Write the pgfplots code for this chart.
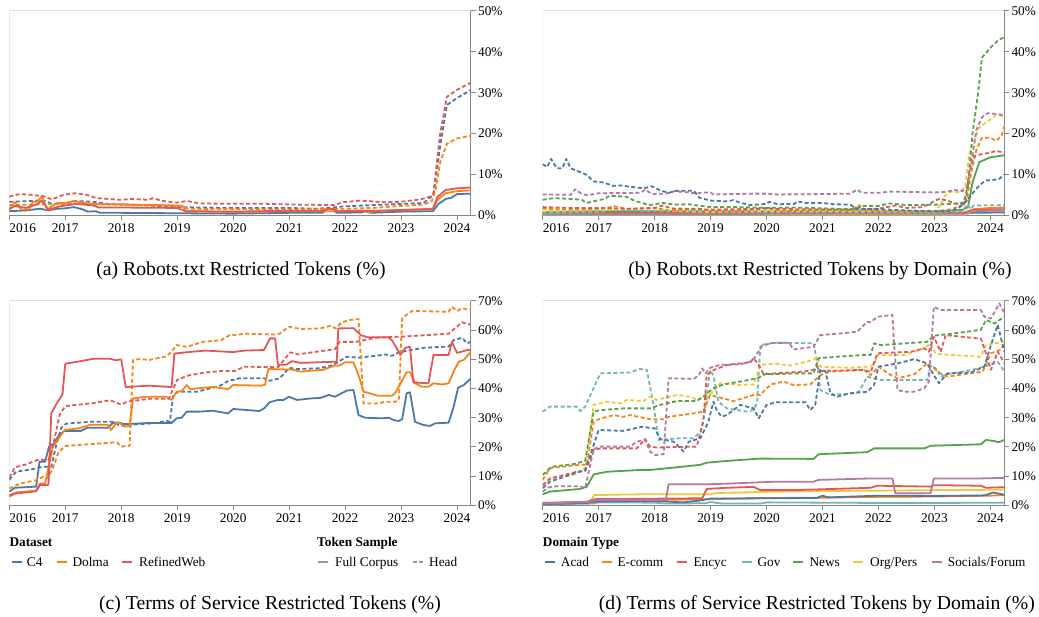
\documentclass[border=0pt]{standalone}
\usepackage{fontspec}
\setmainfont{Liberation Serif}
\usepackage{pgfplots}
\pgfplotsset{compat=1.18}
\definecolor{cA}{HTML}{4C78A8}
\definecolor{cO}{HTML}{F58518}
\definecolor{cR}{HTML}{E45756}
\definecolor{cT}{HTML}{72B7B2}
\definecolor{cG}{HTML}{54A24B}
\definecolor{cY}{HTML}{EECA3B}
\definecolor{cP}{HTML}{B279A2}
\definecolor{axgray}{HTML}{888888}
\definecolor{frgray}{HTML}{DDDDDD}
\definecolor{lggray}{HTML}{999999}
\newcommand{\tickfont}{\fontsize{13.3}{15}\selectfont}
\newcommand{\capfont}{\fontsize{19.7}{24}\selectfont}
\tikzset{hd/.style={dash pattern=on 4pt off 2.5pt}}
\pgfplotsset{
 panel/.style={
  scale only axis, width=461.7pt, height=204.3pt,
  xmin=2016, xmax=2024.25, ymin=0,
  axis x line*=bottom, axis y line*=right,
  axis line style={-, draw=axgray, line width=1pt},
  tick align=outside, major tick length=5pt,
  tick style={draw=axgray, line width=1pt},
  xtick={2017,2018,2019,2020,2021,2022,2023,2024},
  xticklabels={2017,2018,2019,2020,2021,2022,2023,2024},
  extra x ticks={2016}, extra x tick labels={2016},
  extra x tick style={xticklabel style={anchor=north west}},
  ticklabel style={font=\tickfont, text=black},
  xticklabel style={inner sep=0pt, anchor=north, yshift=-3pt},
  yticklabel style={inner sep=0pt, anchor=west, xshift=2pt},
  every axis plot/.append style={line width=1.8pt, line join=round, no marks},
 },
 p50/.style={ymax=50, ytick={0,10,20,30,40,50}, yticklabels={0\%,10\%,20\%,30\%,40\%,50\%}},
 p70/.style={ymax=70, ytick={0,10,20,30,40,50,60,70}, yticklabels={0\%,10\%,20\%,30\%,40\%,50\%,60\%,70\%}},
}
\begin{document}
\begin{tikzpicture}
\useasboundingbox (0,0) rectangle (1039pt,617pt);
% ---------------- (a)
\begin{axis}[panel, p50, at={(9.3pt,401.7pt)}, anchor=south west]
\draw[frgray, line width=1pt] (rel axis cs:0,0) -- (rel axis cs:0,1) -- (rel axis cs:1,1);
\addplot[cA] coordinates {(2016,1.0)(2016.3,1.2)(2016.55,1.6)(2016.7,1.2)(2016.85,1.6)(2017,1.7)(2017.15,2.0)(2017.3,1.5)(2017.4,0.9)(2017.55,1.0)(2017.62,0.6)(2018,0.6)(2019,0.5)(2020,0.4)(2020.5,0.5)(2021,0.6)(2021.6,0.6)(2021.68,1.6)(2021.78,1.4)(2021.85,0.6)(2022.3,0.7)(2022.37,1.1)(2022.45,0.6)(2023,0.9)(2023.57,1.0)(2023.67,2.8)(2023.8,4.0)(2023.9,4.3)(2024,5.2)(2024.25,5.3)};
\addplot[cA,hd] coordinates {(2016,3.3)(2016.4,3.5)(2016.6,3.7)(2016.76,2.8)(2017,2.8)(2017.2,3.5)(2017.5,3.3)(2017.8,2.7)(2018.5,2.4)(2019,2.0)(2020,1.8)(2021,1.8)(2021.5,1.6)(2022,2.2)(2022.5,2.5)(2023,2.8)(2023.4,3.0)(2023.58,5.0)(2023.7,17.0)(2023.82,27.0)(2024,28.7)(2024.25,30.7)};
\addplot[cO] coordinates {(2016,1.5)(2016.1,3.2)(2016.22,1.4)(2016.35,1.4)(2016.42,3.3)(2016.5,3.3)(2016.58,4.6)(2016.68,1.4)(2016.85,3.0)(2017,3.0)(2017.15,3.5)(2017.4,2.9)(2017.6,2.7)(2018,2.7)(2019,2.4)(2019.1,2.3)(2019.15,1.0)(2020,0.8)(2021,1.0)(2022,1.0)(2022.3,1.2)(2022.4,0.7)(2022.5,1.0)(2023,1.3)(2023.57,1.6)(2023.65,3.8)(2023.8,5.4)(2024,5.9)(2024.25,6.1)};
\addplot[cO,hd] coordinates {(2016,2.5)(2017,2.8)(2018,2.6)(2019,2.3)(2019.2,1.6)(2020,1.5)(2021,1.4)(2022,1.6)(2022.5,1.8)(2023,2.3)(2023.4,2.6)(2023.55,3.5)(2023.62,6.5)(2023.7,13.0)(2023.82,17.5)(2024,18.8)(2024.25,19.5)};
\addplot[cR] coordinates {(2016,1.5)(2016.1,2.3)(2016.3,1.8)(2016.5,2.7)(2016.58,3.6)(2016.7,1.3)(2016.9,2.2)(2017.2,2.8)(2017.5,2.4)(2017.6,1.9)(2018,1.9)(2019,1.8)(2019.15,1.0)(2020,0.9)(2021,1.1)(2021.6,1.1)(2021.7,1.6)(2021.8,1.5)(2021.85,1.0)(2022.5,1.1)(2023,1.3)(2023.57,1.5)(2023.65,4.5)(2023.8,6.2)(2024,6.6)(2024.25,6.8)};
\addplot[cR,hd] coordinates {(2016,4.6)(2016.19,5.2)(2016.4,5.0)(2016.6,4.7)(2016.76,3.9)(2016.97,5.0)(2017.17,5.4)(2017.38,5.0)(2017.56,4.2)(2017.98,3.8)(2018.2,4.0)(2018.46,3.8)(2018.58,4.2)(2018.7,3.6)(2018.99,3.1)(2019.17,3.5)(2019.41,2.9)(2020,2.8)(2020.6,2.8)(2021.2,2.6)(2021.8,2.5)(2021.97,3.2)(2022.27,3.6)(2022.69,3.2)(2022.99,3.3)(2023.35,3.9)(2023.53,4.6)(2023.58,5.4)(2023.7,20.1)(2023.82,29.0)(2024,30.7)(2024.25,32.5)};
\end{axis}
% ---------------- (b)
\begin{axis}[panel, p50, at={(542.7pt,401.7pt)}, anchor=south west]
\draw[frgray, line width=1pt] (rel axis cs:0,0) -- (rel axis cs:0,1) -- (rel axis cs:1,1);
\addplot[cA] coordinates {(2016,0.4)(2017,0.5)(2020,0.5)(2023.5,0.4)(2023.7,0.6)(2024.25,0.7)};
\addplot[cO] coordinates {(2016,0.3)(2023.5,0.3)(2023.7,1.5)(2024,1.8)(2024.25,1.9)};
\addplot[cR] coordinates {(2016,0.5)(2018,0.6)(2023.5,0.6)(2023.7,1.3)(2024.25,1.5)};
\addplot[cT] coordinates {(2016,0.2)(2023.55,0.2)(2023.7,1.0)(2024.25,1.1)};
\addplot[cY] coordinates {(2016,0.2)(2023.55,0.2)(2023.7,1.0)(2024.25,1.2)};
\addplot[cP] coordinates {(2016,0.3)(2023.55,0.4)(2023.7,1.0)(2024.25,1.2)};
\addplot[cG] coordinates {(2016,0.8)(2017,1.0)(2019,1.0)(2021,1.0)(2023,1.0)(2023.5,1.3)(2023.6,2.0)(2023.68,8.0)(2023.8,13.0)(2024,14.2)(2024.25,14.7)};
\addplot[cT,hd] coordinates {(2016,0.5)(2017,0.8)(2017.2,1.3)(2018,1.0)(2019,1.1)(2020,0.7)(2021,0.8)(2022,0.7)(2023,0.6)(2023.5,1.0)(2023.58,2.6)(2023.65,1.5)(2023.7,2.4)(2024.25,2.5)};
\addplot[cY,hd] coordinates {(2016,1.0)(2017,1.2)(2017.5,1.5)(2018,1.7)(2018.3,1.0)(2019,0.8)(2020,1.0)(2021,1.0)(2022,0.9)(2023,1.0)(2023.1,2.5)(2023.2,5.0)(2023.3,5.8)(2023.45,5.6)(2023.55,7.0)(2023.62,15)(2023.7,18)(2023.8,21.5)(2023.95,23)(2024.1,24.5)(2024.25,24.3)};
\addplot[cO,hd] coordinates {(2016,1.6)(2016.5,1.4)(2017,1.5)(2017.3,2.2)(2017.5,1.5)(2018,1.8)(2018.25,1.2)(2018.5,1.4)(2018.75,1.7)(2019,1.2)(2019.5,1.0)(2020,1.9)(2020.3,1.0)(2021,1.4)(2021.5,1.2)(2021.65,2.5)(2021.75,1.3)(2022,1.0)(2023,0.9)(2023.3,1.5)(2023.5,2.5)(2023.58,3.5)(2023.65,10)(2023.75,16)(2023.85,19.0)(2024,19.0)(2024.1,18.2)(2024.2,19.5)(2024.25,21.8)};
\addplot[cR,hd] coordinates {(2016,2.0)(2016.5,1.8)(2017,1.8)(2017.5,1.6)(2018,1.8)(2018.15,2.4)(2018.3,1.7)(2019,1.4)(2020,1.6)(2021,1.4)(2021.5,1.4)(2022,1.6)(2022.3,2.4)(2022.5,1.8)(2022.8,2.0)(2023,3.5)(2023.1,4.1)(2023.25,3.5)(2023.4,2.8)(2023.55,2.7)(2023.62,10)(2023.7,14.5)(2023.85,15.0)(2024,15.3)(2024.1,15.8)(2024.25,15.3)};
\addplot[cG,hd] coordinates {(2016,3.8)(2016.2,4.2)(2016.5,4.0)(2016.7,3.8)(2016.78,3.0)(2016.9,3.4)(2017.1,4.0)(2017.2,4.8)(2017.5,4.5)(2017.65,3.5)(2017.9,2.5)(2018.15,3.0)(2018.35,2.6)(2018.6,2.7)(2019,2.0)(2019.5,2.0)(2020,1.8)(2020.5,1.9)(2021,1.7)(2021.5,1.5)(2021.75,2.3)(2022,2.3)(2022.2,2.9)(2022.5,2.5)(2023,2.6)(2023.3,2.8)(2023.5,3.0)(2023.55,4.5)(2023.6,7.5)(2023.68,20)(2023.78,30)(2023.85,38.6)(2024,41.0)(2024.15,43.0)(2024.25,43.5)};
\addplot[cP,hd] coordinates {(2016,5.1)(2016.5,5.0)(2016.58,6.4)(2016.7,5.2)(2016.8,4.9)(2017,5.4)(2017.75,5.5)(2017.83,6.3)(2017.95,5.2)(2018.2,5.3)(2018.35,5.9)(2018.6,5.6)(2018.75,5.3)(2018.85,5.6)(2019,5.6)(2019.05,5.1)(2019.8,5.3)(2020,5.3)(2020.2,5.1)(2021,5.2)(2021.5,5.3)(2021.62,6.3)(2021.7,5.5)(2022,5.5)(2022.2,5.8)(2023,5.6)(2023.2,5.7)(2023.35,6.2)(2023.5,5.9)(2023.58,7.0)(2023.65,12)(2023.75,20.9)(2023.85,24.0)(2023.95,25.0)(2024.1,24.8)(2024.25,24.5)};
\addplot[cA,hd] coordinates {(2016,12.5)(2016.08,11.8)(2016.15,13.8)(2016.25,11.5)(2016.35,11.5)(2016.42,13.8)(2016.5,11.5)(2016.7,10.4)(2016.8,9.8)(2016.9,8.3)(2017.1,8.0)(2017.25,7.2)(2017.4,7.3)(2017.55,7.0)(2017.8,6.6)(2017.95,7.1)(2018.1,6.1)(2018.25,5.5)(2018.4,6.0)(2018.7,6.0)(2018.8,4.3)(2019,3.6)(2019.3,3.4)(2019.4,3.7)(2019.55,3.0)(2019.7,2.5)(2020,2.8)(2020.05,3.3)(2020.2,2.7)(2020.5,2.8)(2020.55,3.4)(2020.7,3.0)(2021,3.0)(2021.2,2.7)(2021.5,2.6)(2021.6,1.6)(2022,1.5)(2022.5,1.2)(2023,1.0)(2023.3,1.0)(2023.45,2.0)(2023.6,4.0)(2023.75,6.5)(2023.9,8.5)(2024.15,8.8)(2024.25,10.0)};
\end{axis}
% ---------------- (c)
\begin{axis}[panel, p70, at={(9.3pt,111.7pt)}, anchor=south west]
\draw[frgray, line width=1pt] (rel axis cs:0,0) -- (rel axis cs:0,1) -- (rel axis cs:1,1);
\addplot[cA] coordinates {(2016,4.7)(2016.1,6.0)(2016.48,6.4)(2016.54,14.9)(2016.64,14.9)(2016.71,20.1)(2016.8,21.2)(2016.89,24.1)(2016.99,25.5)(2017.28,25.5)(2017.4,26.6)(2017.76,26.6)(2017.85,28.2)(2017.95,28.4)(2018.06,27.8)(2018.5,28.2)(2018.9,28.2)(2018.99,29.8)(2019.08,30.0)(2019.17,32.1)(2019.4,32.1)(2019.64,32.4)(2019.91,31.5)(2020,33.0)(2020.47,32.3)(2020.56,33.3)(2020.65,35.3)(2020.8,36.1)(2020.9,36.1)(2021,37.2)(2021.14,36.1)(2021.38,36.6)(2021.56,36.8)(2021.71,37.8)(2021.82,37.2)(2022.03,39.3)(2022.15,39.5)(2022.24,30.9)(2022.36,30.0)(2022.66,29.8)(2022.78,30.0)(2022.87,29.2)(2022.96,28.9)(2023.02,29.5)(2023.1,38.4)(2023.16,38.7)(2023.25,28.6)(2023.4,27.5)(2023.52,27.2)(2023.61,28.1)(2023.85,28.3)(2023.94,33.8)(2024.02,40.3)(2024.12,41.2)(2024.25,43.5)};
\addplot[cA,hd] coordinates {(2016,8.7)(2016.12,11.5)(2016.42,12.4)(2016.6,13.2)(2016.75,13.2)(2016.84,20.7)(2016.93,26.6)(2017.02,28.0)(2017.45,28.6)(2017.88,28.6)(2017.97,27.2)(2018.06,27.5)(2018.33,27.8)(2018.63,28.2)(2018.8,28.9)(2018.87,28.7)(2018.93,37.8)(2019.02,38.9)(2019.35,38.9)(2019.64,40.3)(2019.79,41.2)(2019.94,42.9)(2020.03,42.9)(2020.1,43.5)(2020.38,43.5)(2020.56,43.5)(2020.63,42.6)(2020.83,43.5)(2021,47.1)(2021.14,46.7)(2021.5,46.9)(2021.77,47.9)(2022.03,50.9)(2022.24,50.6)(2022.54,51.2)(2022.72,51.7)(2022.84,51.2)(2022.96,52.4)(2023.2,53.3)(2023.43,54.0)(2023.85,54.4)(2023.94,56.6)(2024.09,57.4)(2024.18,55.5)(2024.25,56.0)};
\addplot[cO] coordinates {(2016,3.5)(2016.12,4.4)(2016.48,5.0)(2016.55,7.5)(2016.64,7.5)(2016.78,20.1)(2016.99,25.8)(2017.25,26.4)(2017.45,27.6)(2017.76,27.6)(2017.82,25.8)(2017.91,28.2)(2017.97,28.2)(2018.06,27.0)(2018.15,27.2)(2018.21,36.6)(2018.45,37.2)(2018.8,37.2)(2018.9,36.1)(2018.99,38.9)(2019.08,39.1)(2019.17,41.2)(2019.23,39.8)(2019.64,40.6)(2019.91,39.8)(2020,41.2)(2020.5,41.0)(2020.57,41.3)(2020.63,46.7)(2021.05,46.5)(2021.2,45.8)(2021.6,46.4)(2021.82,47.9)(2021.9,47.9)(2022,49.0)(2022.15,49.0)(2022.24,44.6)(2022.33,38.9)(2022.4,38.6)(2022.5,38.0)(2022.6,37.5)(2022.84,37.5)(2022.9,38.6)(2023.1,45.6)(2023.16,45.6)(2023.25,41.8)(2023.37,40.6)(2023.49,40.6)(2023.58,41.8)(2023.73,41.4)(2023.85,41.8)(2023.94,45.8)(2024.03,49.2)(2024.12,49.8)(2024.25,52.6)};
\addplot[cO,hd] coordinates {(2016,5.8)(2016.2,7.5)(2016.48,8.6)(2016.6,9.8)(2016.68,9.2)(2016.78,12.7)(2016.87,17.8)(2016.99,20.3)(2017.25,20.7)(2017.85,21.5)(2017.93,21.5)(2017.99,20.1)(2018.15,20.4)(2018.21,49.8)(2018.33,50.1)(2018.5,49.8)(2018.8,51.0)(2018.9,52.6)(2018.99,54.9)(2019.17,54.3)(2019.46,56.0)(2019.79,56.6)(2019.94,58.3)(2020.03,58.3)(2020.2,58.8)(2020.75,58.5)(2020.83,58.8)(2021,61.2)(2021.2,60.4)(2021.56,60.6)(2021.74,61.5)(2021.83,60.6)(2021.94,62.7)(2022.09,63.5)(2022.24,63.8)(2022.33,34.9)(2022.6,34.9)(2022.72,35.5)(2022.9,35.5)(2022.96,36.1)(2023.02,64.0)(2023.08,65.0)(2023.2,66.6)(2023.85,66.3)(2023.91,68.0)(2024,66.6)(2024.09,67.5)(2024.25,66.9)};
\addplot[cR] coordinates {(2016,3.0)(2016.1,4.0)(2016.48,4.8)(2016.55,7.0)(2016.7,7.0)(2016.75,31.5)(2016.85,35.0)(2016.95,38.0)(2017,48.5)(2017.25,49.3)(2017.5,50.2)(2017.8,50.2)(2017.9,49.7)(2018,50.0)(2018.08,40.5)(2018.5,41.0)(2018.9,40.5)(2018.95,52.0)(2019.2,52.5)(2019.5,53.0)(2020,52.5)(2020.2,53.0)(2020.55,53.2)(2020.66,57.2)(2020.75,57.2)(2020.8,48.1)(2020.95,48.2)(2021.05,49.4)(2021.2,48.8)(2021.85,49.2)(2021.88,60.6)(2022.15,60.7)(2022.28,58.3)(2022.4,57.6)(2022.77,57.6)(2022.84,56.5)(2022.99,51.5)(2023.08,54.0)(2023.16,54.3)(2023.22,42.1)(2023.49,41.8)(2023.58,51.5)(2023.85,51.5)(2023.91,56.0)(2024,52.2)(2024.2,53.3)(2024.25,53.0)};
\addplot[cR,hd] coordinates {(2016,9.5)(2016.1,13.0)(2016.3,14.0)(2016.5,15.5)(2016.7,15.5)(2016.8,22.0)(2016.9,31.0)(2017,34.0)(2017.5,35.0)(2017.8,36.0)(2018,34.5)(2018.1,35.5)(2018.5,36.5)(2018.85,36.5)(2019,43.0)(2019.2,44.5)(2019.5,45.5)(2019.8,46.0)(2020.03,46.0)(2020.2,47.5)(2020.8,47.3)(2021.02,52.4)(2021.15,51.7)(2021.82,53.5)(2021.9,56.0)(2022.2,56.0)(2022.54,57.4)(2022.9,57.7)(2023.2,58.0)(2023.85,58.8)(2024.09,62.7)(2024.25,61.8)};
\end{axis}
% ---------------- (d)
\begin{axis}[panel, p70, at={(542.7pt,111.7pt)}, anchor=south west]
\draw[frgray, line width=1pt] (rel axis cs:0,0) -- (rel axis cs:0,1) -- (rel axis cs:1,1);
\addplot[cT] coordinates {(2016,0.3)(2016.9,0.6)(2017,1.0)(2018,0.9)(2018.2,0.6)(2018.9,0.7)(2019,1.1)(2019.2,0.6)(2019.9,0.6)(2020,1.0)(2021,0.9)(2022,0.8)(2023,0.8)(2024.25,0.9)};
\addplot[cO] coordinates {(2016,0.5)(2016.9,1.0)(2017,1.3)(2018,1.8)(2019,2.1)(2020,2.5)(2021,2.6)(2022,2.9)(2023,3.0)(2024,3.3)(2024.25,3.5)};
\addplot[cA] coordinates {(2016,0.4)(2016.8,0.8)(2016.92,1.3)(2018,1.5)(2018.5,1.0)(2018.8,1.6)(2019,2.3)(2020,2.4)(2020.9,2.5)(2021,3.3)(2021.1,2.7)(2022,3.3)(2023,3.2)(2023.9,3.4)(2024.05,4.4)(2024.25,3.6)};
\addplot[cY] coordinates {(2016,0.8)(2016.85,1.3)(2016.92,3.5)(2017.5,3.7)(2018,3.8)(2019,3.8)(2019.1,4.2)(2020,4.6)(2021,4.9)(2022,5.0)(2023,5.2)(2024,5.3)(2024.25,5.4)};
\addplot[cR] coordinates {(2016,0.8)(2016.8,1.2)(2016.92,2.1)(2018.85,2.4)(2018.93,5.6)(2019.29,6.0)(2019.77,6.3)(2019.89,5.2)(2020.5,5.2)(2021.86,6.0)(2021.98,6.7)(2022.93,6.4)(2023.0,6.9)(2023.83,6.7)(2023.92,6.0)(2024.25,6.2)};
\addplot[cP] coordinates {(2016,0.6)(2016.85,1.2)(2016.92,1.8)(2018.2,1.8)(2018.25,7.2)(2018.93,7.2)(2019.29,7.4)(2020.16,8.1)(2020.84,8.1)(2020.93,8.7)(2021.86,9.2)(2022.25,9.2)(2022.3,4.1)(2022.93,4.1)(2022.99,9.2)(2023.83,9.2)(2024.25,9.4)};
\addplot[cG] coordinates {(2016,3.8)(2016.13,4.7)(2016.67,5.6)(2016.79,6.4)(2016.91,10.6)(2017.15,11.5)(2017.74,12.1)(2017.92,12.1)(2018.64,13.5)(2018.82,13.9)(2018.93,14.6)(2019.29,15.2)(2019.89,16.0)(2020.84,15.9)(2020.93,17.5)(2021.8,18.2)(2021.92,19.5)(2022.82,19.5)(2022.93,20.4)(2023.83,20.9)(2023.92,22.4)(2024.07,22.0)(2024.15,21.6)(2024.25,22.4)};
\addplot[cT,hd] coordinates {(2016,32.1)(2016.13,33.8)(2016.61,33.8)(2016.67,32.3)(2016.76,33.8)(2017.03,45.2)(2017.56,45.5)(2017.74,46.7)(2017.86,46.5)(2017.98,34.4)(2018.07,22.4)(2018.46,23.0)(2018.7,23.0)(2018.82,25.2)(2018.9,32)(2018.99,46.3)(2019.05,44.6)(2019.14,35.5)(2019.29,33.2)(2019.65,32.1)(2019.77,32.7)(2019.83,35.0)(2019.89,54.9)(2020.13,55.7)(2020.84,55.5)(2020.9,49.2)(2020.96,39.5)(2021.14,37.8)(2021.56,38.4)(2021.65,38.9)(2021.8,44.1)(2021.92,43.5)(2022.04,42.9)(2022.87,42.9)(2022.93,47.8)(2023.02,47.0)(2023.11,44.1)(2023.23,44.9)(2023.65,46.3)(2023.89,47.5)(2024.13,49.2)(2024.25,45.8)};
\addplot[cY,hd] coordinates {(2016,6.5)(2016.13,9.0)(2016.55,10.4)(2016.76,12.7)(2016.91,34.4)(2017.15,35.5)(2017.39,34.9)(2017.5,36.1)(2017.8,35.7)(2017.92,37.2)(2018.04,36.1)(2018.4,37.8)(2018.64,37.2)(2018.75,36.1)(2018.99,37.8)(2019.17,41.8)(2019.53,41.2)(2019.77,41.4)(2019.89,48.1)(2020.16,48.5)(2020.43,47.9)(2020.84,49.8)(2020.9,50.9)(2020.96,47.5)(2021.5,47.1)(2021.8,47.5)(2021.92,48.1)(2021.98,51.5)(2022.46,51.5)(2022.82,53.8)(2022.93,55.5)(2023.02,52.0)(2023.17,51.7)(2023.83,50.9)(2023.92,54.9)(2024.07,55.5)(2024.25,56.0)};
\addplot[cO,hd] coordinates {(2016,8.7)(2016.13,12.7)(2016.67,13.9)(2016.79,13.9)(2016.91,28.6)(2017.03,29.7)(2017.27,30.9)(2017.44,30.3)(2017.56,30.9)(2017.92,29.5)(2018.16,29.5)(2018.25,30.3)(2018.7,31.5)(2018.87,32.1)(2018.99,37.8)(2019.17,36.9)(2019.41,35.7)(2019.77,37.8)(2019.89,37.8)(2020,40.1)(2020.1,41.5)(2020.31,42.4)(2020.48,41.2)(2020.78,41.4)(2020.9,43.5)(2020.99,44.9)(2021.14,45.8)(2021.74,46.4)(2021.86,44.6)(2022,47.5)(2022.22,44.6)(2022.34,43.5)(2022.64,44.9)(2022.87,48.6)(2023.11,45.2)(2023.23,44.1)(2023.65,45.2)(2023.86,45.8)(2024.01,52.1)(2024.19,53.3)(2024.25,55.5)};
\addplot[cR,hd] coordinates {(2016,7.0)(2016.13,9.2)(2016.61,11.5)(2016.76,11.7)(2016.91,18.9)(2017.03,19.5)(2017.68,19.5)(2017.83,22.7)(2017.92,20.1)(2018.04,19.8)(2018.75,20.1)(2018.87,28.6)(2018.93,44.6)(2019.05,46.3)(2019.29,48.1)(2019.71,49.0)(2019.77,50.4)(2019.86,48.1)(2019.95,44.9)(2020.16,45.2)(2020.66,45.8)(2020.84,46.4)(2020.9,47.5)(2020.96,46.0)(2021.74,46.4)(2021.86,45.6)(2021.98,52.1)(2022.58,52.6)(2022.82,53.8)(2022.9,52.6)(2022.99,57.7)(2023.11,52.6)(2023.2,58.3)(2023.83,57.1)(2023.92,52.1)(2024.01,46.4)(2024.13,52.6)(2024.25,48.7)};
\addplot[cG,hd] coordinates {(2016,10.4)(2016.16,13.2)(2016.61,14.3)(2016.76,15.4)(2016.91,32.1)(2017.03,32.6)(2017.44,33.2)(2017.92,33.2)(2018.1,34.4)(2018.4,35.7)(2018.75,35.7)(2018.87,37.2)(2019.05,40.1)(2019.23,41.4)(2019.53,42.4)(2019.83,43.5)(2020,45.2)(2020.07,44.9)(2020.54,45.2)(2020.84,45.2)(2020.93,50.4)(2021.26,50.9)(2021.74,51.5)(2021.86,51.5)(2021.92,55.5)(2022.04,54.9)(2022.87,56.0)(2022.99,58.1)(2023.35,58.9)(2023.83,60.1)(2023.92,63.5)(2024.07,62.3)(2024.25,64.6)};
\addplot[cA,hd] coordinates {(2016,5.9)(2016.13,8.1)(2016.55,10.9)(2016.76,12.1)(2016.91,20.6)(2017,25.8)(2017.44,25.5)(2017.8,27.0)(2017.92,26.4)(2018.0,26.4)(2018.1,22.7)(2018.34,21.8)(2018.52,18.4)(2018.61,21.8)(2018.82,23.0)(2018.96,28.6)(2019.05,35.5)(2019.12,32.1)(2019.2,30.4)(2019.29,30.9)(2019.53,34.4)(2019.77,33.2)(2019.86,29.8)(2020,34.4)(2020.16,35.3)(2020.7,35.3)(2020.78,32.6)(2020.87,34.4)(2020.96,46.4)(2021.05,46.0)(2021.14,38.4)(2021.26,37.2)(2021.5,38.4)(2021.8,38.9)(2021.92,41.2)(2022,47.5)(2022.34,48.6)(2022.64,50.1)(2022.87,48.6)(2022.99,44.6)(2023.08,41.8)(2023.23,45.2)(2023.65,45.5)(2023.89,47.5)(2024.01,54.9)(2024.13,61.8)(2024.25,52.6)};
\addplot[cP,hd] coordinates {(2016,4.7)(2016.1,6.1)(2016.24,6.5)(2016.67,6.5)(2016.76,5.9)(2016.85,13.9)(2016.91,19.3)(2017.03,20.1)(2017.56,20.1)(2017.68,21.8)(2017.83,22.4)(2017.92,18.4)(2018.01,17.2)(2018.16,17.5)(2018.25,43.5)(2018.7,43.3)(2018.79,44.6)(2018.85,46.9)(2018.91,45.2)(2018.99,47.1)(2019.17,48.1)(2019.53,48.3)(2019.71,49.2)(2019.8,50.9)(2019.92,54.7)(2020.1,55.6)(2020.4,55.7)(2020.48,53.4)(2020.84,54.3)(2020.96,58.3)(2021.14,58.6)(2021.5,59.2)(2021.62,59.5)(2021.8,62.9)(2021.86,62.7)(2021.98,64.6)(2022.25,65.2)(2022.28,54.9)(2022.34,39.5)(2022.46,38.9)(2022.64,38.9)(2022.82,40.1)(2022.9,42.4)(2022.99,68.0)(2023.11,66.9)(2023.83,66.9)(2023.89,64.6)(2024.01,64.0)(2024.16,69.2)(2024.25,65.8)};
\end{axis}
% ---------------- legends
\begin{scope}[every node/.style={inner sep=0pt, anchor=base west, font=\tickfont}, lg/.style={line width=1.8pt}]
\node[font=\tickfont\bfseries] at (9.3pt,70pt) {Dataset};
\draw[lg,cA] (12pt,55.3pt) -- (22pt,55.3pt); \node at (26.7pt,50.5pt) {C4};
\draw[lg,cO] (57pt,55.3pt) -- (67pt,55.3pt); \node at (72.3pt,50.5pt) {Dolma};
\draw[lg,cR] (122pt,55.3pt) -- (132pt,55.3pt); \node at (139pt,50.5pt) {RefinedWeb};
\node[font=\tickfont\bfseries] at (317pt,70pt) {Token Sample};
\draw[lg,lggray] (318pt,55.3pt) -- (328pt,55.3pt); \node at (335pt,50.5pt) {Full Corpus};
\draw[lg,lggray,dash pattern=on 4pt off 2pt] (413pt,55.3pt) -- (423pt,55.3pt); \node at (429pt,50.5pt) {Head};
\node[font=\tickfont\bfseries] at (542.7pt,70pt) {Domain Type};
\draw[lg,cA] (545pt,55.3pt) -- (555pt,55.3pt); \node at (560.7pt,50.5pt) {Acad};
\draw[lg,cO] (601.7pt,55.3pt) -- (611.7pt,55.3pt); \node at (617.3pt,50.5pt) {E-comm};
\draw[lg,cR] (676.7pt,55.3pt) -- (686.7pt,55.3pt); \node at (693.3pt,50.5pt) {Encyc};
\draw[lg,cT] (741.7pt,55.3pt) -- (751.7pt,55.3pt); \node at (757.3pt,50.5pt) {Gov};
\draw[lg,cG] (793.3pt,55.3pt) -- (803.3pt,55.3pt); \node at (809.3pt,50.5pt) {News};
\draw[lg,cY] (853.3pt,55.3pt) -- (863.3pt,55.3pt); \node at (870pt,50.5pt) {Org/Pers};
\draw[lg,cP] (931.7pt,55.3pt) -- (941.7pt,55.3pt); \node at (947.7pt,50.5pt) {Socials/Forum};
\end{scope}
% ---------------- captions
\begin{scope}[every node/.style={inner sep=0pt, anchor=base, font=\capfont}]
\node at (241pt,341pt) {(a) Robots.txt Restricted Tokens (\%)};
\node at (820pt,341pt) {(b) Robots.txt Restricted Tokens by Domain (\%)};
\node at (270pt,7pt) {(c) Terms of Service Restricted Tokens (\%)};
\node[anchor=base east] at (1035pt,7pt) {(d) Terms of Service Restricted Tokens by Domain (\%)};
\end{scope}
\end{tikzpicture}
\end{document}
